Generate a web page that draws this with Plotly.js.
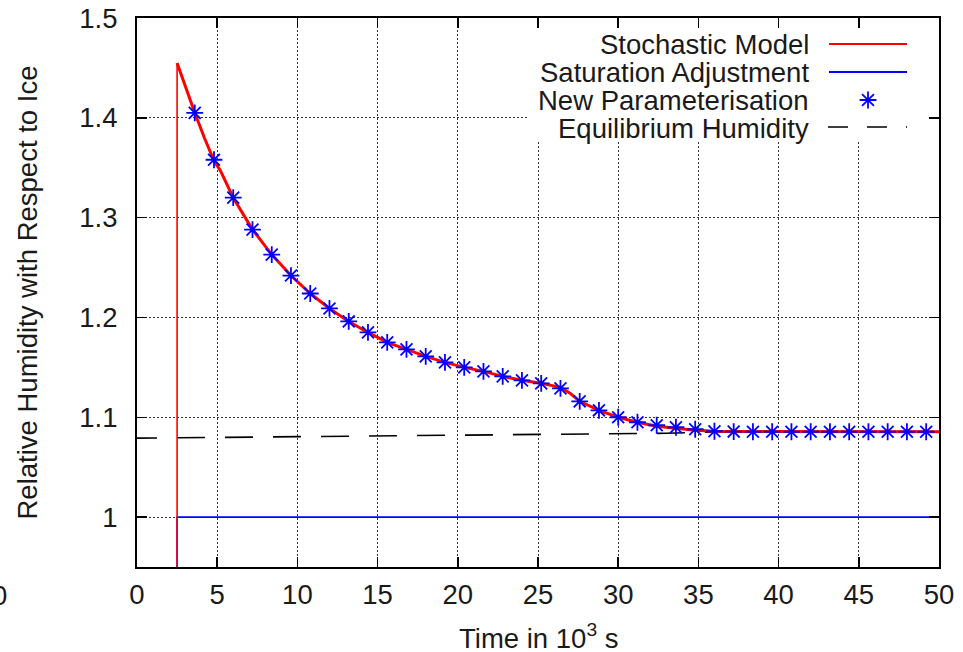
<!DOCTYPE html>
<html>
<head>
<meta charset="utf-8">
<script src="https://cdn.plot.ly/plotly-3.0.1.min.js"></script>
<style>
  html, body { margin: 0; padding: 0; background: #fff; }
  #chart { width: 963px; height: 652px; }
</style>
</head>
<body>
<div id="chart"></div>
<script>
// ---------------- data ----------------
const xTickVals = [0, 5, 10, 15, 20, 25, 30, 35, 40, 45, 50];
const xTickText = ['0', '5', '10', '15', '20', '25', '30', '35', '40', '45', '50'];
const yTickVals = [1.0, 1.1, 1.2, 1.3, 1.4, 1.5];
const yTickText = ['1', '1.1', '1.2', '1.3', '1.4', '1.5'];

// Stochastic model (red)
const stochT  = [2.5, 2.5, 3.0, 3.6, 4.2, 4.8, 5.2, 6.0, 7.2, 8.4, 9.6, 10.8, 12.0, 13.2, 14.4, 15.6, 16.8, 18.0, 19.2, 20.4, 21.6, 22.8, 24.0, 25.2, 26.4, 27.0, 27.6, 28.8, 30.0, 31.2, 32.4, 33.6, 34.8, 36.0, 37.2, 50.0];
const stochRH = [0.90, 1.455, 1.432, 1.405, 1.380, 1.357, 1.347, 1.320, 1.288, 1.263, 1.242, 1.224, 1.209, 1.196, 1.185, 1.175, 1.168, 1.161, 1.155, 1.150, 1.146, 1.141, 1.137, 1.134, 1.130, 1.124, 1.116, 1.107, 1.100, 1.095, 1.091, 1.089, 1.087, 1.086, 1.0857, 1.0855];

// Saturation adjustment (blue)
const satT  = [2.5, 2.5, 50.0];
const satRH = [0.90, 1.0, 1.0];

// New parameterisation (blue asterisks)
const paramT  = [3.6, 4.8, 6.0, 7.2, 8.4, 9.6, 10.8, 12.0, 13.2, 14.4, 15.6, 16.8, 18.0, 19.2, 20.4, 21.6, 22.8, 24.0, 25.2, 26.4, 27.6, 28.8, 30.0, 31.2, 32.4, 33.6, 34.8, 36.0, 37.2, 38.4, 39.6, 40.8, 42.0, 43.2, 44.4, 45.6, 46.8, 48.0, 49.2];
const paramRH = [1.405, 1.358, 1.320, 1.288, 1.263, 1.242, 1.224, 1.209, 1.196, 1.185, 1.175, 1.168, 1.161, 1.155, 1.150, 1.146, 1.141, 1.137, 1.134, 1.129, 1.116, 1.107, 1.100, 1.095, 1.092, 1.090, 1.088, 1.086, 1.0857, 1.0855, 1.0855, 1.0855, 1.0855, 1.0855, 1.0855, 1.0855, 1.0855, 1.0855, 1.0855];

// Equilibrium humidity (black dashed)
const eqT  = [-0.5, 10, 20, 30, 33, 36, 40, 50];
const eqRH = [1.079, 1.0805, 1.0817, 1.0832, 1.084, 1.0853, 1.0856, 1.0856];

const legendNames = ['Stochastic Model', 'Saturation Adjustment', 'New Parameterisation', 'Equilibrium Humidity'];

// ---------------- layout helpers ----------------
const W = 963, H = 652;
const L = 137, R = 939, T = 18, B = 567;
const XR = [0, 50], YR = [0.95, 1.5];
const dx = px => XR[0] + (px - L) / (R - L) * (XR[1] - XR[0]);
const dy = py => YR[1] - (py - T) / (B - T) * (YR[1] - YR[0]);

const FONT = 'Liberation Sans, Arial, sans-serif';
const FS = 27.5;
const TXT = '#1a1a1a';
const RED = '#ff0000', BLUE = '#0000ff';

const starMarker = { symbol: 'asterisk-open', size: 14, color: BLUE, line: { color: BLUE, width: 1.8 } };

const traces = [
  { x: satT, y: satRH, mode: 'lines', line: { color: BLUE, width: 1.6 }, hoverinfo: 'skip' },
  { x: eqT, y: eqRH, mode: 'lines', line: { color: '#000', width: 1.6, dash: '28px,20px' }, hoverinfo: 'skip' },
  { x: stochT.slice(0, 2), y: stochRH.slice(0, 2), mode: 'lines', line: { color: RED, width: 1.6 }, hoverinfo: 'skip' },
  { x: stochT.slice(1), y: stochRH.slice(1), mode: 'lines', line: { color: RED, width: 3 }, hoverinfo: 'skip' },
  { x: paramT, y: paramRH, mode: 'markers', marker: starMarker, hoverinfo: 'skip' },
  // legend samples
  { x: [dx(829), dx(907)], y: [dy(44), dy(44)], mode: 'lines', line: { color: RED, width: 2 }, hoverinfo: 'skip' },
  { x: [dx(829), dx(907)], y: [dy(72), dy(72)], mode: 'lines', line: { color: BLUE, width: 2 }, hoverinfo: 'skip' },
  { x: [dx(868)], y: [dy(100)], mode: 'markers', marker: starMarker, hoverinfo: 'skip' },
  { x: [dx(828), dx(907)], y: [dy(127), dy(127)], mode: 'lines', line: { color: '#000', width: 1.6, dash: '20px,19px' }, hoverinfo: 'skip' }
];

const legendRows = [44, 72, 100, 128];
const annotations = legendNames.map((name, i) => ({
  text: name, xref: 'x', yref: 'y', x: dx(811), y: dy(legendRows[i]),
  xanchor: 'right', yanchor: 'middle', showarrow: false,
  font: { family: FONT, size: FS, color: TXT }
}));
annotations.push({
  text: 'Relative Humidity with Respect to Ice', xref: 'paper', yref: 'paper',
  x: 0, y: 0.5, xshift: 27 - L, textangle: -90, xanchor: 'center', yanchor: 'middle',
  showarrow: false, font: { family: FONT, size: FS, color: TXT }
});
annotations.push({
  text: 'Time in 10<sup>3</sup> s', xref: 'paper', yref: 'paper',
  x: 0.5, y: 0, yshift: -(636 - B), xanchor: 'center', yanchor: 'middle',
  showarrow: false, font: { family: FONT, size: FS, color: TXT }
});
annotations.push({
  text: '0', xref: 'paper', yref: 'paper', x: 0, y: 0, xshift: -1 - L, yshift: -(595 - B),
  xanchor: 'center', yanchor: 'middle', showarrow: false,
  font: { family: FONT, size: FS, color: TXT }
});

const axisCommon = {
  showline: true, linecolor: '#000', linewidth: 2, mirror: 'ticks',
  ticks: 'inside', ticklen: 10, tickwidth: 1.5, tickcolor: '#000',
  showgrid: true, gridcolor: '#333', gridwidth: 1, griddash: '1.5px,2.5px',
  zeroline: false, tickfont: { family: FONT, size: FS, color: TXT },
  fixedrange: true
};

const layout = {
  width: W, height: H,
  margin: { l: L, r: W - R, t: T, b: H - B, pad: 0 },
  paper_bgcolor: '#fff', plot_bgcolor: '#fff',
  showlegend: false,
  xaxis: Object.assign({}, axisCommon, { range: XR, tickmode: 'array', tickvals: xTickVals, ticktext: xTickText, ticklabelstandoff: 2 }),
  yaxis: Object.assign({}, axisCommon, { range: YR, tickmode: 'array', tickvals: yTickVals, ticktext: yTickText, ticklabelstandoff: 12 }),
  shapes: [{
    type: 'rect', xref: 'x', yref: 'y', layer: 'between',
    x0: dx(528), x1: dx(R), y0: dy(T), y1: dy(141),
    fillcolor: '#fff', line: { width: 0 }
  }],
  annotations: annotations
};

Plotly.newPlot('chart', traces, layout, { staticPlot: true, displayModeBar: false });
</script>
</body>
</html>
